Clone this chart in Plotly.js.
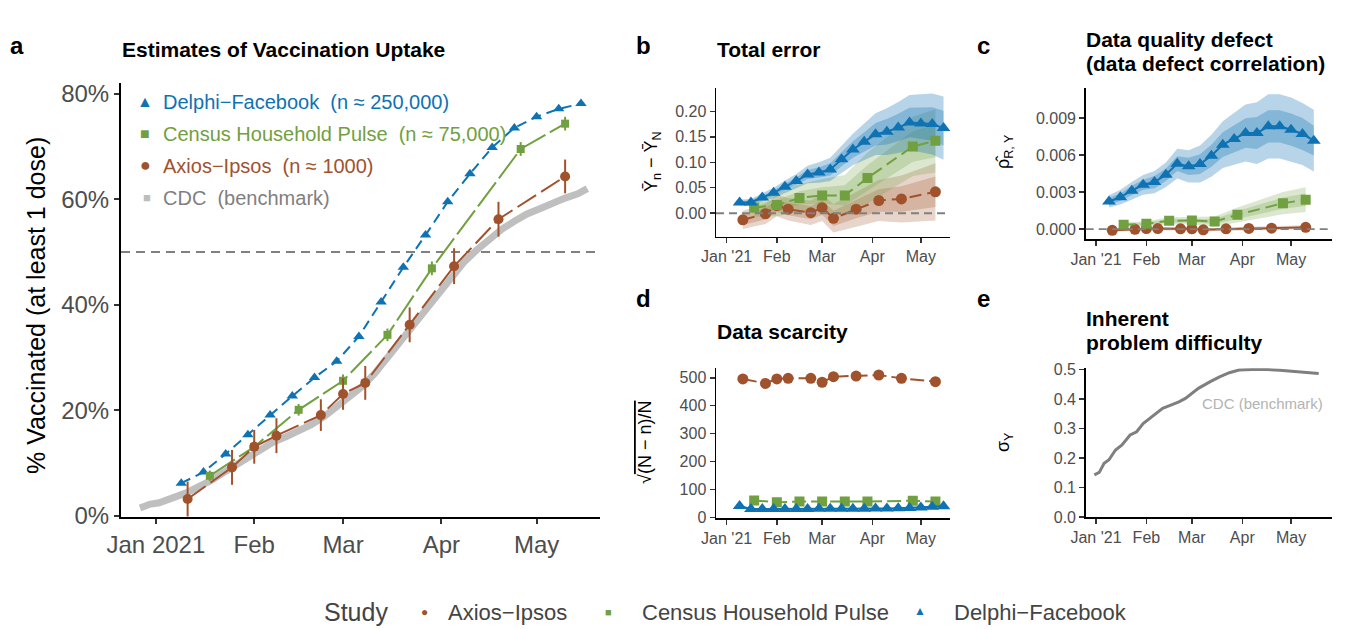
<!DOCTYPE html>
<html><head><meta charset="utf-8">
<script src="https://cdn.plot.ly/plotly-3.0.1.min.js"></script>
<style>html,body{margin:0;padding:0;background:#fff}</style>
</head><body><div id="chart" style="width:1349px;height:629px"></div>
<script>
// ---------------- data ----------------
const cdcDates = ['2020-12-27','2020-12-30','2021-01-02','2021-01-05','2021-01-08','2021-01-11','2021-01-14','2021-01-18','2021-01-22','2021-01-26','2021-01-30','2021-02-03','2021-02-07','2021-02-11','2021-02-15','2021-02-19','2021-02-23','2021-02-27','2021-03-03','2021-03-07','2021-03-11','2021-03-15','2021-03-19','2021-03-23','2021-03-27','2021-03-31','2021-04-04','2021-04-08','2021-04-12','2021-04-16','2021-04-20','2021-04-24','2021-04-28','2021-05-02','2021-05-06','2021-05-10','2021-05-14','2021-05-17'];
const cdcPct = [1.5,2.2,2.5,3.0,3.8,4.5,5.3,6.6,8.1,9.5,11.0,12.3,14.0,15.0,16.0,17.3,18.8,20.8,22.8,24.5,27.0,30.0,33.0,36.3,39.5,42.5,45.0,48.0,50.3,52.3,54.3,55.8,57.2,58.2,59.3,60.2,61.0,62.0];

const delphiDates = ['2021-01-09','2021-01-16','2021-01-23','2021-01-30','2021-02-06','2021-02-13','2021-02-20','2021-02-27','2021-03-06','2021-03-13','2021-03-20','2021-03-27','2021-04-03','2021-04-10','2021-04-17','2021-04-24','2021-05-01','2021-05-08','2021-05-15'];
const delphiPct = [6.2,8.3,11.75,15.4,19.1,22.7,26.2,29.3,34.0,40.5,47.1,53.2,59.5,64.8,69.8,73.5,75.6,77.1,78.1];

const censusDates = ['2021-01-18','2021-02-01','2021-02-15','2021-03-01','2021-03-15','2021-03-29','2021-04-26','2021-05-10'];
const censusPct = [7.6,13.1,20.1,25.6,34.3,46.9,69.5,74.3];
const censusErr = [1.0,1.1,1.1,1.2,1.2,1.3,1.3,1.3];

const axiosDates = ['2021-01-11','2021-01-25','2021-02-01','2021-02-08','2021-02-22','2021-03-01','2021-03-08','2021-03-22','2021-04-05','2021-04-19','2021-05-10'];
const axiosPct = [3.2,9.2,13.1,15.2,19.1,23.1,25.2,36.2,47.3,56.2,64.3];
const axiosErr = [3.3,3.3,3.2,3.3,3.0,3.0,3.2,3.3,3.4,3.3,3.2];

// panel b: total error
const delphiTotalErr = [0.021,0.021,0.031,0.040,0.052,0.063,0.076,0.080,0.086,0.106,0.125,0.140,0.155,0.160,0.168,0.178,0.176,0.175,0.167];
const delphiTotalErrOuter = [0.006,0.007,0.008,0.010,0.012,0.014,0.017,0.020,0.023,0.027,0.031,0.036,0.041,0.046,0.050,0.054,0.057,0.060,0.062];
const delphiTotalErrInner = [0.003,0.004,0.004,0.005,0.006,0.007,0.009,0.010,0.012,0.014,0.016,0.019,0.022,0.025,0.027,0.029,0.031,0.033,0.034];
const censusTotalErr = [0.011,0.016,0.030,0.035,0.035,0.069,0.131,0.142];
const censusTotalErrOuter = [0.018,0.022,0.027,0.032,0.040,0.050,0.058,0.062];
const censusTotalErrInner = [0.008,0.010,0.013,0.016,0.020,0.025,0.030,0.032];
const axiosTotalErr = [-0.013,-0.001,0.015,0.008,0.001,0.011,-0.010,0.008,0.025,0.028,0.042];
const axiosTotalErrOuter = [0.018,0.020,0.021,0.022,0.024,0.026,0.028,0.034,0.040,0.046,0.056];
const axiosTotalErrInner = [0.010,0.011,0.012,0.012,0.013,0.014,0.015,0.018,0.022,0.025,0.030];

// panel c: data defect correlation
const delphiDDC = [0.00224,0.00259,0.00311,0.00359,0.00381,0.00440,0.00530,0.00508,0.00527,0.00594,0.00684,0.00730,0.00778,0.00778,0.00832,0.00832,0.00805,0.00770,0.00716];
const delphiDDCOuter = [0.0005,0.0006,0.0007,0.0008,0.0009,0.0010,0.0012,0.0013,0.0015,0.0017,0.0019,0.0021,0.0023,0.0025,0.0026,0.0026,0.0026,0.0025,0.0025];
const delphiDDCInner = [0.0003,0.0003,0.0004,0.0004,0.0005,0.0005,0.0006,0.0007,0.0008,0.0009,0.0010,0.0011,0.0012,0.0013,0.0013,0.0013,0.0013,0.0013,0.0012];
const censusDDC = [0.00035,0.00043,0.00067,0.00070,0.00062,0.00116,0.00210,0.00238];
const censusDDCOuter = [0.0002,0.0002,0.0003,0.0003,0.0004,0.0006,0.0009,0.0010];
const censusDDCInner = [0.0001,0.0001,0.00015,0.00015,0.0002,0.0003,0.00045,0.0005];
const axiosDDC = [-0.0001,-0.00002,0.00005,0.00004,0.00002,0.00003,-0.00006,0.00002,0.00006,0.00008,0.00015];
const axiosDDCOuter = [0.00012,0.00012,0.00012,0.00012,0.00012,0.00012,0.00012,0.00013,0.00014,0.00015,0.00016];

// panel d: data scarcity
const delphiScarcity = [41,30,30,30,30,30,30,31,31,31,31,31,32,32,33,34,36,38,40];
const censusScarcity = [61,54,57,57,57,57,60,57];
const axiosScarcity = [496,480,496,498,498,484,504,506,510,498,486];

// panel e: inherent problem difficulty
const sigmaDates = ['2020-12-31','2021-01-03','2021-01-06','2021-01-09','2021-01-13','2021-01-17','2021-01-22','2021-01-26','2021-01-30','2021-02-03','2021-02-07','2021-02-11','2021-02-16','2021-02-21','2021-02-25','2021-03-01','2021-03-05','2021-03-12','2021-03-18','2021-03-24','2021-03-30','2021-04-07','2021-04-16','2021-04-24','2021-05-04','2021-05-18'];
const sigmaY = [0.143,0.151,0.182,0.194,0.227,0.244,0.278,0.289,0.317,0.334,0.351,0.368,0.379,0.390,0.402,0.419,0.436,0.458,0.475,0.489,0.498,0.500,0.500,0.497,0.493,0.486];

const monthTicks = ['2021-01-01','2021-02-01','2021-03-01','2021-04-01','2021-05-01'];
const monthLabelsA = ['Jan 2021','Feb','Mar','Apr','May'];
const monthLabelsSmall = ["Jan '21",'Feb','Mar','Apr','May'];
const pctTickVals = [0, 20, 40, 60, 80];
const pctTickLabels = ['0%', '20%', '40%', '60%', '80%'];

// ---------------- styles ----------------
const W = 1349, H = 629;
const fx = x => x / W, fy = y => 1 - y / H;
const FONT = 'Liberation Sans, Arial, Helvetica, sans-serif';
const BLUE = '#0F72B3', GREEN = '#71A040', BROWN = '#A0522D';
const BLUE_F = 'rgba(15,114,179,0.30)', GREEN_F = 'rgba(113,160,64,0.25)', BROWN_F = 'rgba(160,82,45,0.25)';

function band(xs, ys, hw, xa, ya, color) {
  const up = ys.map((v, i) => v + hw[i]);
  const lo = ys.map((v, i) => v - hw[i]);
  return {x: xs.concat(xs.slice().reverse()), y: up.concat(lo.slice().reverse()),
    xaxis: xa, yaxis: ya, mode: 'lines', fill: 'toself', fillcolor: color,
    line: {width: 0}, hoverinfo: 'skip', showlegend: false};
}
function series(xs, ys, xa, ya, color, symbol, size, dash, lw) {
  return {x: xs, y: ys, xaxis: xa, yaxis: ya, mode: 'lines+markers', showlegend: false,
    line: {color: color, width: lw || 2, dash: dash},
    marker: {color: color, symbol: symbol, size: size, line: {width: 0}}};
}

const traces = [];
// panel a
traces.push({x: cdcDates, y: cdcPct, xaxis: 'x', yaxis: 'y', mode: 'lines', line: {color: '#BFBFBF', width: 7}, showlegend: false});
traces.push(series(delphiDates, delphiPct, 'x', 'y', BLUE, 'triangle-up', 10, '10px,6px'));
const cen = series(censusDates, censusPct, 'x', 'y', GREEN, 'square', 8, '30px,5px');
cen.error_y = {type: 'data', array: censusErr, visible: true, color: GREEN, thickness: 2, width: 0};
traces.push(cen);
const axi = series(axiosDates, axiosPct, 'x', 'y', BROWN, 'circle', 10, '22px,6px');
axi.error_y = {type: 'data', array: axiosErr, visible: true, color: BROWN, thickness: 2, width: 0};
traces.push(axi);

// panel b
traces.push(band(axiosDates, axiosTotalErr, axiosTotalErrOuter, 'x2', 'y2', BROWN_F));
traces.push(band(axiosDates, axiosTotalErr, axiosTotalErrInner, 'x2', 'y2', BROWN_F));
traces.push(band(censusDates, censusTotalErr, censusTotalErrOuter, 'x2', 'y2', GREEN_F));
traces.push(band(censusDates, censusTotalErr, censusTotalErrInner, 'x2', 'y2', GREEN_F));
traces.push(band(delphiDates, delphiTotalErr, delphiTotalErrOuter, 'x2', 'y2', BLUE_F));
traces.push(band(delphiDates, delphiTotalErr, delphiTotalErrInner, 'x2', 'y2', BLUE_F));
traces.push(series(axiosDates, axiosTotalErr, 'x2', 'y2', BROWN, 'circle', 11, '12px,6px'));
traces.push(series(censusDates, censusTotalErr, 'x2', 'y2', GREEN, 'square', 10, '12px,6px'));
traces.push(series(delphiDates, delphiTotalErr, 'x2', 'y2', BLUE, 'triangle-up', 12, 'solid'));

// panel c
traces.push(band(axiosDates, axiosDDC, axiosDDCOuter, 'x3', 'y3', BROWN_F));
traces.push(band(censusDates, censusDDC, censusDDCOuter, 'x3', 'y3', GREEN_F));
traces.push(band(censusDates, censusDDC, censusDDCInner, 'x3', 'y3', GREEN_F));
traces.push(band(delphiDates, delphiDDC, delphiDDCOuter, 'x3', 'y3', BLUE_F));
traces.push(band(delphiDates, delphiDDC, delphiDDCInner, 'x3', 'y3', BLUE_F));
traces.push(series(axiosDates, axiosDDC, 'x3', 'y3', BROWN, 'circle', 11, 'solid'));
traces.push(series(censusDates, censusDDC, 'x3', 'y3', GREEN, 'square', 10, '12px,6px'));
traces.push(series(delphiDates, delphiDDC, 'x3', 'y3', BLUE, 'triangle-up', 12, 'solid'));

// panel d
traces.push(series(axiosDates, axiosScarcity, 'x4', 'y4', BROWN, 'circle', 11, '14px,5px'));
traces.push(series(censusDates, censusScarcity, 'x4', 'y4', GREEN, 'square', 10, '14px,5px'));
traces.push(series(delphiDates, delphiScarcity, 'x4', 'y4', BLUE, 'triangle-up', 12, 'solid'));

// panel e
traces.push({x: sigmaDates, y: sigmaY, xaxis: 'x5', yaxis: 'y5', mode: 'lines', line: {color: '#7F7F7F', width: 3}, showlegend: false});

// ---------------- axes ----------------
function xax(dom, range, labels, anchor, fs) {
  return {domain: dom, range: range, type: 'date', anchor: anchor, tickmode: 'array', tickvals: monthTicks, ticktext: labels,
    showline: true, linecolor: '#000', linewidth: fs > 20 ? 2 : 1.5, ticks: 'outside', ticklen: 5, tickcolor: '#333', tickwidth: fs > 20 ? 2 : 1.5,
    tickfont: {size: fs, color: '#4D4D4D', family: FONT}, showgrid: false, zeroline: false, fixedrange: true};
}
function yax(dom, range, vals, anchor, fs, fmt, labels) {
  const o = {domain: dom, range: range, anchor: anchor, tickmode: 'array', tickvals: vals,
    showline: true, linecolor: '#000', linewidth: fs > 20 ? 2 : 1.5, ticks: 'outside', ticklen: 5, tickcolor: '#333', tickwidth: fs > 20 ? 2 : 1.5,
    tickfont: {size: fs, color: '#4D4D4D', family: FONT}, showgrid: false, zeroline: false, fixedrange: true};
  if (labels) o.ticktext = labels; else o.tickformat = fmt;
  return o;
}

const layout = {
  width: W, height: H, margin: {l: 0, r: 0, t: 0, b: 0}, paper_bgcolor: '#fff', plot_bgcolor: 'rgba(0,0,0,0)',
  font: {family: FONT}, showlegend: false,
  xaxis: xax([fx(121), fx(600)], ['2020-12-21', '2021-05-21'], monthLabelsA, 'y', 24),
  yaxis: yax([fy(517), fy(83)], [-0.2, 82], pctTickVals, 'x', 24, '', pctTickLabels),
  xaxis2: xax([fx(716), fx(950)], ['2020-12-25 10:00', '2021-05-19'], monthLabelsSmall, 'y2', 16),
  yaxis2: yax([fy(236.7), fy(88.3)], [-0.046, 0.245], [0, 0.05, 0.10, 0.15, 0.20], 'x2', 16, '.2f'),
  xaxis3: xax([fx(1085.7), fx(1331.7)], ['2020-12-25 16:00', '2021-05-26'], monthLabelsSmall, 'y3', 16),
  yaxis3: yax([fy(239), fy(88.3)], [-0.0008, 0.0114], [0, 0.003, 0.006, 0.009], 'x3', 16, '.3f'),
  xaxis4: xax([fx(716), fx(950)], ['2020-12-25 10:00', '2021-05-19'], monthLabelsSmall, 'y4', 16),
  yaxis4: yax([fy(518), fy(368.3)], [-2, 534], [0, 100, 200, 300, 400, 500], 'x4', 16, 'd'),
  xaxis5: xax([fx(1085.7), fx(1331.7)], ['2020-12-25 16:00', '2021-05-26'], monthLabelsSmall, 'y5', 16),
  yaxis5: yax([fy(517.3), fy(368.3)], [-0.001, 0.504], [0, 0.1, 0.2, 0.3, 0.4, 0.5], 'x5', 16, '.1f'),
  shapes: [
    {type: 'line', xref: 'x domain', yref: 'y', x0: 0, x1: 1, y0: 50, y1: 50, line: {color: '#808080', width: 2, dash: '9px,6px'}, layer: 'below'},
    {type: 'line', xref: 'x2 domain', yref: 'y2', x0: 0, x1: 1, y0: 0, y1: 0, line: {color: '#808080', width: 1.8, dash: '8px,5px'}},
    {type: 'line', xref: 'x3 domain', yref: 'y3', x0: 0, x1: 1, y0: 0, y1: 0, line: {color: '#808080', width: 1.8, dash: '8px,5px'}}
  ],
  annotations: []
};

function ann(text, x, y, opts) {
  return Object.assign({text: text, xref: 'paper', yref: 'paper', x: fx(x), y: fy(y), showarrow: false,
    xanchor: 'left', yanchor: 'middle', font: {family: FONT, size: 20, color: '#000'}}, opts || {});
}
const A = layout.annotations;
// panel letters
[['a', 17, 45], ['b', 643, 45], ['c', 983, 45], ['d', 643, 298], ['e', 983, 298]].forEach(p =>
  A.push(ann('<b>' + p[0] + '</b>', p[1], p[2], {xanchor: 'center', font: {family: FONT, size: 24, color: '#000'}})));
// titles
const TF = {family: FONT, size: 21, color: '#000'};
A.push(ann('<b>Estimates of Vaccination Uptake</b>', 120, 50, {font: TF}));
A.push(ann('<b>Total error</b>', 715, 50, {font: TF}));
A.push(ann('<b>Data quality defect</b>', 1084, 39, {font: TF}));
A.push(ann('<b>(data defect correlation)</b>', 1084, 64, {font: TF}));
A.push(ann('<b>Data scarcity</b>', 715, 331, {font: TF}));
A.push(ann('<b>Inherent</b>', 1084, 318, {font: TF}));
A.push(ann('<b>problem difficulty</b>', 1084, 342, {font: TF}));
// y-axis titles
A.push(ann('% Vaccinated (at least 1 dose)', 36, 306, {xanchor: 'center', textangle: -90, font: {family: FONT, size: 25, color: '#000'}}));
A.push(ann('Ȳ<sub>n</sub> − Ȳ<sub>N</sub>', 652, 162, {xanchor: 'center', textangle: -90, font: {family: FONT, size: 18, color: '#000'}}));
A.push(ann('ρ̂<sub>R, Y</sub>', 1004, 152, {xanchor: 'center', textangle: -90, font: {family: FONT, size: 18, color: '#000'}}));
A.push(ann('√<span style="text-decoration:overline">(N − n)/N</span>', 645, 443, {xanchor: 'center', textangle: -90, font: {family: FONT, size: 18, color: '#000'}}));
A.push(ann('σ<sub>Y</sub>', 1004, 442, {xanchor: 'center', textangle: -90, font: {family: FONT, size: 18, color: '#000'}}));
// panel a legend
const LF = s => ({family: FONT, size: s});
A.push(ann('▲', 145, 101, {xanchor: 'center', font: Object.assign(LF(16), {color: BLUE})}));
A.push(ann('Delphi−Facebook\u00a0\u00a0(n ≈ 250,000)', 161, 102, {font: Object.assign(LF(20), {color: BLUE})}));
A.push(ann('■', 145, 133, {xanchor: 'center', font: Object.assign(LF(16), {color: GREEN})}));
A.push(ann('Census Household Pulse\u00a0\u00a0(n ≈ 75,000)', 161, 134, {font: Object.assign(LF(20), {color: GREEN})}));
A.push(ann('●', 145, 165, {xanchor: 'center', font: Object.assign(LF(18), {color: BROWN})}));
A.push(ann('Axios−Ipsos\u00a0\u00a0(n ≈ 1000)', 161, 166, {font: Object.assign(LF(20), {color: BROWN})}));
A.push(ann('■', 147, 197, {xanchor: 'center', font: Object.assign(LF(13), {color: '#BDBDBD'})}));
A.push(ann('CDC\u00a0\u00a0(benchmark)', 161, 198, {font: Object.assign(LF(20), {color: '#7F7F7F'})}));
// panel e label
A.push(ann('CDC (benchmark)', 1262, 403, {xanchor: 'center', font: Object.assign(LF(15), {color: '#B3B3B3'})}));
// bottom legend
A.push(ann('Study', 322, 612, {font: LF(25)}));
A.push(ann('●', 425, 612, {xanchor: 'center', font: Object.assign(LF(12), {color: BROWN})}));
A.push(ann('Axios−Ipsos', 446, 612, {font: LF(22)}));
A.push(ann('■', 608, 612, {xanchor: 'center', font: Object.assign(LF(11), {color: GREEN})}));
A.push(ann('Census Household Pulse', 640, 612, {font: LF(22)}));
A.push(ann('▲', 920, 611, {xanchor: 'center', font: Object.assign(LF(12), {color: BLUE})}));
A.push(ann('Delphi−Facebook', 952, 612, {font: LF(22)}));

Plotly.newPlot('chart', traces, layout, {staticPlot: true, displayModeBar: false});
</script>
</body></html>
